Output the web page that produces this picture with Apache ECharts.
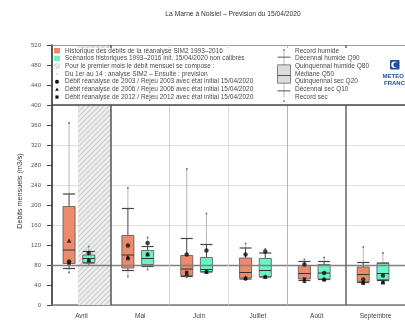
<!DOCTYPE html>
<html>
<head>
<meta charset="utf-8">
<script src="https://cdn.jsdelivr.net/npm/echarts@6/dist/echarts.min.js"></script>
<style>
  html, body { margin: 0; padding: 0; background: #fff; }
  #chart { width: 405px; height: 320px; }
</style>
</head>
<body>
<div id="chart"></div>
<script>
const months = ["Avril", "Mai", "Juin", "Juillet", "Août", "Septembre"];

// Historique SIM2 1993-2016 (orange)
const histRecMax = [364, 234, 272, 123, 91, 116];
const histQ90 = [222, 193, 133, 114, 87, 85];
const histQ80 = [197, 139, 99, 94, 79, 76];
const histQ50 = [110, 100, 72, 65, 63, 61];
const histQ20 = [83, 74, 59, 54, 52, 47];
const histQ10 = [73, 69, 57, 52, 49, 45];
const histRecMin = [65, 57, 55, 50, 45, 42];

// Scenarios historiques init. 15/04/2020 (vert)
const scenRecMax = [117, 135, 183, 112, 95, 104];
const scenQ90 = [107, 117, 121, 104, 87, 84];
const scenQ80 = [100, 109, 95, 93, 81, 83];
const scenQ50 = [93, 93, 71, 69, 64, 63];
const scenQ20 = [85, 81, 67, 57, 52, 51];
const scenQ10 = [84, 77, 66, 56, 51, 49];
const scenRecMin = [82, 71, 65, 55, 49, 47];

// annees particulieres
const hist2003 = [87, 119, 101, 101, 81, 51];
const hist2006 = [129, 96, 63, 55, 49, 46];
const hist2012 = [84, 93, 65, 53, 52, 44];
const scen2003 = [104, 124, 109, 107, 64, 59];
const scen2006 = [90, 102, 67, 57, 52, 46];
const scen2012 = [89, 101, 66, 56, 51, 45];

// axe y
const yMin = 0, yMax = 520, yStep = 40, gridStep = 80;
const refLevel = 80;
// partie prevision du premier mois (fraction du mois)
const forecastStart = 0.44;

const FONT = "'Liberation Sans', Arial, sans-serif";
const histOffset = 0.29, scenOffset = 0.625, boxWidth = 0.205;

const chart = echarts.init(document.getElementById("chart"), null, { renderer: "canvas" });

// motif hachure
const hatch = document.createElement("canvas");
hatch.width = 5; hatch.height = 5;
(function () {
  const c = hatch.getContext("2d");
  c.fillStyle = "#eeeeee";
  c.fillRect(0, 0, 5, 5);
  c.strokeStyle = "#cacaca";
  c.lineWidth = 1.1;
  c.beginPath();
  c.moveTo(-1, 6); c.lineTo(6, -1);
  c.moveTo(-1, 1); c.lineTo(1, -1);
  c.moveTo(4, 6); c.lineTo(6, 4);
  c.stroke();
})();
const hatchFill = { image: hatch, repeat: "repeat" };

function boxData(offset, rmin, q10, q20, q50, q80, q90, rmax) {
  return months.map((m, i) => [i + offset, rmin[i], q10[i], q20[i], q50[i], q80[i], q90[i], rmax[i]]);
}

function renderBox(color) {
  return function (params, api) {
    const x = api.value(0);
    const y = [1, 2, 3, 4, 5, 6, 7].map((k) => api.coord([x, api.value(k)])[1]);
    const cx = api.coord([x, 0])[0];
    const h = api.size([boxWidth, 0])[0] / 2;
    const light = { stroke: "#9a9a9a", lineWidth: 0.7 };
    const dark = { stroke: "#444", lineWidth: 1 };
    return {
      type: "group",
      children: [
        { type: "line", shape: { x1: cx, y1: y[6], x2: cx, y2: y[5] }, style: light },
        { type: "line", shape: { x1: cx, y1: y[1], x2: cx, y2: y[0] }, style: light },
        { type: "line", shape: { x1: cx, y1: y[5], x2: cx, y2: y[4] }, style: dark },
        { type: "line", shape: { x1: cx, y1: y[2], x2: cx, y2: y[1] }, style: dark },
        { type: "line", shape: { x1: cx - h, y1: y[5], x2: cx + h, y2: y[5] }, style: { stroke: "#444", lineWidth: 1.2 } },
        { type: "line", shape: { x1: cx - h, y1: y[1], x2: cx + h, y2: y[1] }, style: { stroke: "#444", lineWidth: 1.2 } },
        { type: "rect", shape: { x: cx - h, y: y[4], width: 2 * h, height: y[2] - y[4] }, style: { fill: color, stroke: "#555", lineWidth: 0.8 } },
        { type: "line", shape: { x1: cx - h, y1: y[3], x2: cx + h, y2: y[3] }, style: { stroke: "#333", lineWidth: 1 } },
        { type: "circle", shape: { cx: cx, cy: y[6], r: 1 }, style: { fill: "#777" } },
        { type: "circle", shape: { cx: cx, cy: y[0], r: 1 }, style: { fill: "#777" } },
      ],
    };
  };
}

function yearPoints(h, s) {
  return months.map((m, i) => [i + histOffset, h[i]]).concat(months.map((m, i) => [i + scenOffset, s[i]]));
}

const option = {
  animation: false,
  backgroundColor: "#fff",
  textStyle: { fontFamily: FONT },
  grid: { left: 52, top: 45, width: 366, bottom: 15 },
  xAxis: [
    {
      type: "category",
      data: months,
      boundaryGap: true,
      axisLine: { lineStyle: { color: "#777", width: 1.5 } },
      axisTick: { length: 3, lineStyle: { color: "#777" } },
      axisLabel: { fontSize: 6.5, color: "#444", margin: 8, fontFamily: FONT },
      splitLine: { show: false },
    },
    { type: "value", min: 0, max: months.length, show: false },
  ],
  yAxis: [
    {
      type: "value",
      min: yMin,
      max: yMax,
      interval: yStep,
      axisLine: { show: true, lineStyle: { color: "#222", width: 1.5 } },
      axisTick: { show: true, length: 5, lineStyle: { color: "#444" } },
      axisLabel: { fontSize: 6, color: "#555", margin: 11, fontFamily: FONT },
      splitLine: { show: false },
    },
    {
      type: "value",
      min: yMin,
      max: yMax,
      interval: gridStep,
      axisLine: { show: false },
      axisTick: { show: false },
      axisLabel: { show: false },
      splitLine: { show: true, lineStyle: { color: "#dedede", width: 1 } },
    },
  ],
  series: [
    {
      type: "custom",
      name: "prevision",
      xAxisIndex: 1,
      yAxisIndex: 0,
      z: 1,
      silent: true,
      data: [[forecastStart, 1, yMin, yMax]],
      renderItem: function (params, api) {
        const p0 = api.coord([api.value(0), api.value(3)]);
        const p1 = api.coord([api.value(1), api.value(2)]);
        return {
          type: "rect",
          shape: { x: p0[0], y: p0[1], width: p1[0] - p0[0], height: p1[1] - p0[1] },
          style: { fill: hatchFill },
        };
      },
      markLine: {
        silent: true,
        symbol: "none",
        label: { show: false },
        data: [
          { yAxis: refLevel, lineStyle: { color: "#808080", width: 1.3, type: "solid" } },
          { yAxis: yMax, lineStyle: { color: "#999", width: 1, type: "solid" } },
          { xAxis: 1, lineStyle: { color: "#555", width: 1.5, type: "solid" } },
          { xAxis: 2, lineStyle: { color: "#cfcfcf", width: 1, type: "solid" } },
          { xAxis: 3, lineStyle: { color: "#dcdcdc", width: 1, type: "solid" } },
          { xAxis: 4, lineStyle: { color: "#b5b5b5", width: 1, type: "solid" } },
          { xAxis: 5, lineStyle: { color: "#666", width: 1.5, type: "solid" } },
        ],
      },
    },
    {
      type: "custom",
      name: "Historique",
      xAxisIndex: 1,
      yAxisIndex: 0,
      z: 3,
      renderItem: renderBox("#eb8a6c"),
      encode: { x: 0, y: [1, 2, 3, 4, 5, 6, 7] },
      data: boxData(histOffset, histRecMin, histQ10, histQ20, histQ50, histQ80, histQ90, histRecMax),
    },
    {
      type: "custom",
      name: "Scenarios",
      xAxisIndex: 1,
      yAxisIndex: 0,
      z: 3,
      renderItem: renderBox("#6cf2c6"),
      encode: { x: 0, y: [1, 2, 3, 4, 5, 6, 7] },
      data: boxData(scenOffset, scenRecMin, scenQ10, scenQ20, scenQ50, scenQ80, scenQ90, scenRecMax),
    },
    {
      type: "scatter", name: "2003", xAxisIndex: 1, yAxisIndex: 0, z: 5,
      symbol: "circle", symbolSize: 4.5, itemStyle: { color: "#111" },
      data: yearPoints(hist2003, scen2003),
    },
    {
      type: "scatter", name: "2006", xAxisIndex: 1, yAxisIndex: 0, z: 5,
      symbol: "triangle", symbolSize: 4.5, itemStyle: { color: "#111" },
      data: yearPoints(hist2006, scen2006),
    },
    {
      type: "scatter", name: "2012", xAxisIndex: 1, yAxisIndex: 0, z: 5,
      symbol: "rect", symbolSize: 3.6, itemStyle: { color: "#111" },
      data: yearPoints(hist2012, scen2012),
    },
  ],
};

chart.setOption(option);

// legende dessinee a la main, calee sur le repere
const yTop = chart.convertToPixel({ yAxisIndex: 0 }, yMax);
const y400 = chart.convertToPixel({ yAxisIndex: 0 }, 400);
const xL = chart.convertToPixel({ xAxisIndex: 1 }, 0);
const rowY = (i) => yTop + 6 + i * 7.67;
const txt = (x, y, s, extra) =>
  Object.assign({ type: "text", x: x, y: y, z: 102, style: Object.assign({
    text: s, fill: "#4a4a4a", fontSize: 6.5, fontFamily: FONT,
    align: "left", textAlign: "left", verticalAlign: "middle", textVerticalAlign: "middle",
  }, extra || {}) });

const leftTexts = [
  "Historique des débits de la réanalyse SIM2 1993–2016",
  "Scénarios historiques 1993–2016 init. 15/04/2020 non calibrés",
  "Pour le premier mois le débit mensuel se compose :",
  "Du 1er au 14 : analyse SIM2 – Ensuite : prevision",
  "Débit réanalyse de 2003 / Rejeu 2003 avec état initial 15/04/2020",
  "Débit réanalyse de 2006 / Rejeu 2006 avec état initial 15/04/2020",
  "Débit réanalyse de 2012 / Rejeu 2012 avec état initial 15/04/2020",
];
const rightTexts = [
  "Record humide", "Décennal humide Q90", "Quinquennal humide Q80", "Médiane Q50",
  "Quinquennal sec Q20", "Décennal sec Q10", "Record sec",
];

const els = [
  { type: "text", x: 233, y: 14, z: 102, style: { text: "La Marne à Noisiel – Prevision du 15/04/2020", fill: "#333", fontSize: 6.7, fontFamily: FONT, align: "center", textAlign: "center", verticalAlign: "middle", textVerticalAlign: "middle" } },
  { type: "text", x: 20, y: 191, rotation: Math.PI / 2, z: 102, style: { text: "Debits mensuels (m3/s)", fill: "#333", fontSize: 7.2, fontFamily: FONT, align: "center", textAlign: "center", verticalAlign: "middle", textVerticalAlign: "middle" } },
  { type: "rect", z: 100, shape: { x: xL + 1, y: yTop + 3, width: 420, height: y400 - yTop - 3 }, style: { fill: "#fff" } },
  { type: "line", z: 101, shape: { x1: xL, y1: y400, x2: 420, y2: y400 }, style: { stroke: "#444", lineWidth: 1.5 } },
  { type: "rect", z: 101, shape: { x: xL + 2, y: rowY(0) - 3, width: 6, height: 5.5 }, style: { fill: "#eb8a6c" } },
  { type: "rect", z: 101, shape: { x: xL + 2, y: rowY(1) - 3, width: 6, height: 5.5 }, style: { fill: "#6cf2c6" } },
  { type: "rect", z: 101, shape: { x: xL + 2, y: rowY(2) - 3, width: 6, height: 5.5 }, style: { fill: hatchFill } },
  { type: "circle", z: 101, shape: { cx: xL + 5, cy: rowY(3), r: 0.8 }, style: { fill: "#bbb" } },
  { type: "circle", z: 101, shape: { cx: xL + 5, cy: rowY(4), r: 2 }, style: { fill: "#111" } },
  { type: "polygon", z: 101, shape: { points: [[xL + 5, rowY(5) - 1.8], [xL + 3.2, rowY(5) + 1.4], [xL + 6.8, rowY(5) + 1.4]] }, style: { fill: "#111" } },
  { type: "rect", z: 101, shape: { x: xL + 3.4, y: rowY(6) - 1.6, width: 3.2, height: 3.2 }, style: { fill: "#111" } },
];
leftTexts.forEach((s, i) => els.push(txt(xL + 13, rowY(i), s)));
rightTexts.forEach((s, i) => els.push(txt(295, rowY(i), s)));

// glyphe de boite
const gx = 284, gh = 6.5;
els.push(
  { type: "line", z: 101, shape: { x1: gx, y1: rowY(0), x2: gx, y2: rowY(6) }, style: { stroke: "#999", lineWidth: 0.7 } },
  { type: "line", z: 101, shape: { x1: gx - gh, y1: rowY(1) - 1.5, x2: gx + gh, y2: rowY(1) - 1.5 }, style: { stroke: "#555", lineWidth: 1 } },
  { type: "line", z: 101, shape: { x1: gx - gh, y1: rowY(5) + 1.5, x2: gx + gh, y2: rowY(5) + 1.5 }, style: { stroke: "#555", lineWidth: 1 } },
  { type: "rect", z: 101, shape: { x: gx - gh, y: rowY(2) - 1.5, width: 2 * gh, height: rowY(4) - rowY(2) + 3 }, style: { fill: "#dcdcdc", stroke: "#666", lineWidth: 0.8 } },
  { type: "line", z: 102, shape: { x1: gx - gh, y1: rowY(3) + 1.5, x2: gx + gh, y2: rowY(3) + 1.5 }, style: { stroke: "#555", lineWidth: 1 } },
  { type: "circle", z: 102, shape: { cx: gx, cy: rowY(0) - 1, r: 0.9 }, style: { fill: "#777" } },
  { type: "circle", z: 102, shape: { cx: gx, cy: rowY(6) + 4, r: 0.9 }, style: { fill: "#777" } }
);

// logo Meteo-France
els.push(
  { type: "rect", z: 101, shape: { x: 390, y: 60, width: 9.5, height: 9.5, r: 1 }, style: { fill: "#1f4f9e" } },
  { type: "circle", z: 102, shape: { cx: 394.5, cy: 64.8, r: 3.2 }, style: { fill: "#fff" } },
  { type: "circle", z: 103, shape: { cx: 396, cy: 64.8, r: 2.6 }, style: { fill: "#1f4f9e" } },
  txt(382.5, 76, "METEO", { fill: "#1f4f9e", fontSize: 6, fontWeight: "bold" }),
  txt(384, 83, "FRANCE", { fill: "#1f4f9e", fontSize: 6, fontWeight: "bold" })
);

chart.setOption({ graphic: { elements: els } });

window.addEventListener("resize", () => chart.resize());
</script>
</body>
</html>
